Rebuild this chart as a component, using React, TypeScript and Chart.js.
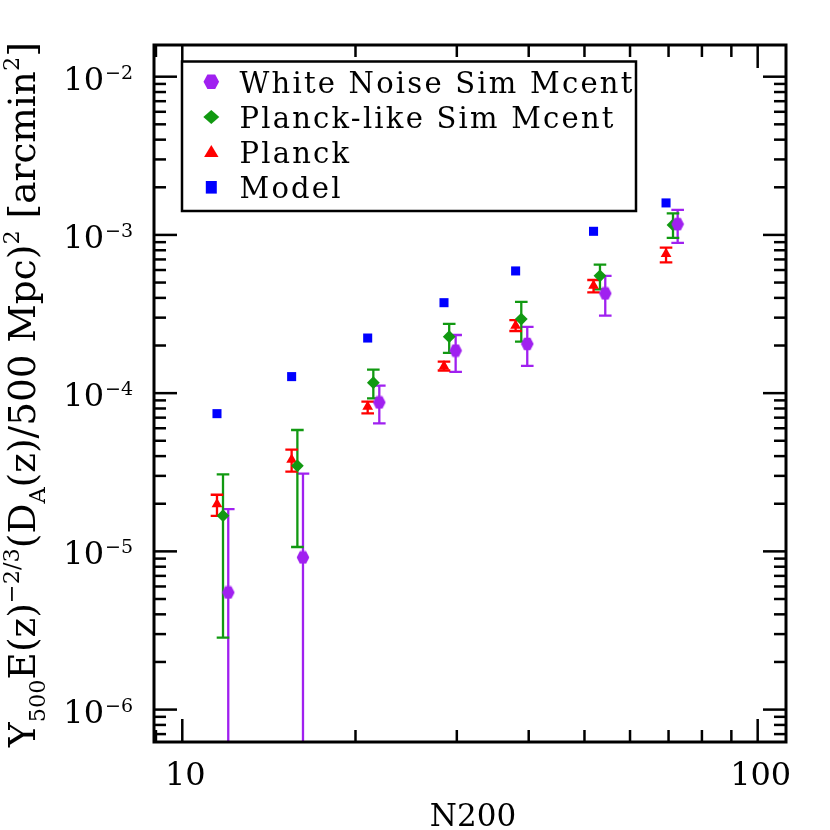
import React, { useEffect, useRef } from 'react';
import { Chart, registerables } from 'chart.js';

Chart.register(...registerables);

// ---------------- data ----------------
const nModel = [11.49, 15.49, 21.0, 28.5, 37.96, 51.85, 69.3];
const yModel = [7.42e-5, 1.272e-4, 2.23e-4, 3.73e-4, 5.92e-4, 1.054e-3, 1.593e-3];

const nPlanck = [11.49, 15.49, 21.0, 28.5, 37.96, 51.85, 69.3];
const yPlanck = [1.99e-5, 3.8e-5, 8.21e-5, 1.478e-4, 2.67e-4, 4.78e-4, 7.58e-4];
const yPlanckHi = [2.28e-5, 4.39e-5, 8.84e-5, 1.58e-4, 2.89e-4, 5.19e-4, 8.31e-4];
const yPlanckLo = [1.675e-5, 3.19e-5, 7.45e-5, 1.39e-4, 2.47e-4, 4.34e-4, 6.71e-4];

const nPlanckSim = [11.77, 15.85, 21.48, 29.1, 38.83, 53.2, 71.26];
const yPlanckSim = [1.68e-5, 3.47e-5, 1.165e-4, 2.276e-4, 2.94e-4, 5.51e-4, 1.157e-3];
const yPlanckSimHi = [3.07e-5, 5.85e-5, 1.408e-4, 2.74e-4, 3.77e-4, 6.49e-4, 1.369e-3];
const yPlanckSimLo = [2.85e-6, 1.066e-5, 9.27e-5, 1.795e-4, 2.116e-4, 4.53e-4, 9.57e-4];

const nWhite = [12.02, 16.21, 22.0, 29.86, 39.77, 54.34, 72.6];
const yWhite = [5.5e-6, 9.16e-6, 8.74e-5, 1.857e-4, 2.047e-4, 4.27e-4, 1.17e-3];
const yWhiteHi = [1.85e-5, 3.1e-5, 1.115e-4, 2.33e-4, 2.62e-4, 5.51e-4, 1.438e-3];
const yWhiteLo = [-7.5e-6, -1.27e-5, 6.44e-5, 1.361e-4, 1.486e-4, 3.09e-4, 8.9e-4];

const seriesLabels = ['White Noise Sim Mcent', 'Planck-like Sim Mcent', 'Planck', 'Model'];

const xMajorTicks = [10, 100];
const xMajorLabels = ['10', '100'];
const xMinorTicks = [9, 20, 30, 40, 50, 60, 70, 80, 90];
const yMajorExps = [-2, -3, -4, -5, -6];
const yMinorMult = [2, 3, 4, 5, 6, 7, 8, 9];

const X_MIN = 8.93;
const X_MAX = 112;
const Y_MIN = 6.24e-7;
const Y_MAX = 0.01586;

const xTitle = 'N200';
const yTitleSegs = [
  { t: 'Y', k: 0 },
  { t: '500', k: -1 },
  { t: 'E(z)', k: 0 },
  { t: '\u22122/3', k: 1 },
  { t: '(D', k: 0 },
  { t: 'A', k: -1 },
  { t: '(z)/500 Mpc)', k: 0 },
  { t: '2', k: 1 },
  { t: ' [arcmin', k: 0 },
  { t: '2', k: 1 },
  { t: ']', k: 0 },
];

// ---------------- styles ----------------
const PURPLE = '#a020f0';
const GREEN = '#119911';
const RED = '#ff0000';
const BLUE = '#0000ff';
const FONT = '"DejaVu Serif", "Liberation Serif", serif';

function hexPath(ctx: CanvasRenderingContext2D, x: number, y: number, hw: number, hh: number) {
  ctx.beginPath();
  ctx.moveTo(x - hw, y);
  ctx.lineTo(x - hw / 2, y - hh);
  ctx.lineTo(x + hw / 2, y - hh);
  ctx.lineTo(x + hw, y);
  ctx.lineTo(x + hw / 2, y + hh);
  ctx.lineTo(x - hw / 2, y + hh);
  ctx.closePath();
}

function makeHex(color: string, hw: number, hh: number) {
  const c = document.createElement('canvas');
  c.width = 14;
  c.height = 14;
  const g = c.getContext('2d')!;
  g.fillStyle = color;
  hexPath(g, 7, 7, hw, hh);
  g.fill();
  return c;
}

function drawMarker(ctx: CanvasRenderingContext2D, kind: string, x: number, y: number, color: string) {
  ctx.fillStyle = color;
  ctx.beginPath();
  if (kind === 'hex') {
    hexPath(ctx, x, y, 7.8, 7.2);
  } else if (kind === 'diamond') {
    ctx.moveTo(x - 8, y);
    ctx.lineTo(x, y - 7);
    ctx.lineTo(x + 8, y);
    ctx.lineTo(x, y + 7);
    ctx.closePath();
  } else if (kind === 'tri') {
    ctx.moveTo(x, y - 7);
    ctx.lineTo(x + 7.2, y + 5);
    ctx.lineTo(x - 7.2, y + 5);
    ctx.closePath();
  } else {
    ctx.rect(x - 5.5, y - 6.3, 11, 12.6);
  }
  ctx.fill();
}

const errorSeries = [
  { n: nWhite, hi: yWhiteHi, lo: yWhiteLo, color: PURPLE },
  { n: nPlanckSim, hi: yPlanckSimHi, lo: yPlanckSimLo, color: GREEN },
  { n: nPlanck, hi: yPlanckHi, lo: yPlanckLo, color: RED },
];

const overlayPlugin = {
  id: 'overlay',
  beforeDatasetsDraw(chart: any) {
    const ctx: CanvasRenderingContext2D = chart.ctx;
    const { left, right, top, bottom } = chart.chartArea;
    const xs = chart.scales.x;
    const ys = chart.scales.y;
    ctx.save();
    ctx.beginPath();
    ctx.rect(left, top, right - left, bottom - top);
    ctx.clip();
    ctx.lineWidth = 2.3;
    const cap = 6.3;
    for (const s of errorSeries) {
      ctx.strokeStyle = s.color;
      for (let i = 0; i < s.n.length; i++) {
        const px = xs.getPixelForValue(s.n[i]);
        const pTop = ys.getPixelForValue(s.hi[i]);
        const hasLo = s.lo[i] > 0;
        const pBot = hasLo ? ys.getPixelForValue(s.lo[i]) : bottom + 20;
        ctx.beginPath();
        ctx.moveTo(px, pTop);
        ctx.lineTo(px, pBot);
        ctx.moveTo(px - cap, pTop);
        ctx.lineTo(px + cap, pTop);
        if (hasLo) {
          ctx.moveTo(px - cap, pBot);
          ctx.lineTo(px + cap, pBot);
        }
        ctx.stroke();
      }
    }
    ctx.restore();
  },
  afterDraw(chart: any) {
    const ctx: CanvasRenderingContext2D = chart.ctx;
    const { left, right, top, bottom } = chart.chartArea;
    const xs = chart.scales.x;
    const ys = chart.scales.y;
    ctx.save();
    ctx.strokeStyle = '#000';
    ctx.fillStyle = '#000';
    ctx.lineWidth = 2.5;
    const line = (x1: number, y1: number, x2: number, y2: number) => {
      ctx.beginPath();
      ctx.moveTo(x1, y1);
      ctx.lineTo(x2, y2);
      ctx.stroke();
    };
    const MAJ = 23;
    const MIN = 12;
    for (const v of xMajorTicks) {
      const p = xs.getPixelForValue(v);
      line(p, bottom, p, bottom - MAJ);
      line(p, top, p, top + MAJ);
    }
    for (const v of xMinorTicks) {
      const p = xs.getPixelForValue(v);
      line(p, bottom, p, bottom - MIN);
      line(p, top, p, top + MIN);
    }
    const exps = [...yMajorExps, Math.min(...yMajorExps) - 1];
    for (const e of exps) {
      if (yMajorExps.includes(e)) {
        const p = ys.getPixelForValue(Math.pow(10, e));
        line(left, p, left + MAJ, p);
        line(right, p, right - MAJ, p);
      }
      for (const m of yMinorMult) {
        const v = m * Math.pow(10, e);
        if (v > Y_MAX || v < Y_MIN) continue;
        const q = ys.getPixelForValue(v);
        line(left, q, left + MIN, q);
        line(right, q, right - MIN, q);
      }
    }
    ctx.lineWidth = 3;
    ctx.strokeRect(left, top, right - left, bottom - top);

    // x tick labels
    ctx.textBaseline = 'alphabetic';
    ctx.font = `32px ${FONT}`;
    ctx.textAlign = 'center';
    xMajorTicks.forEach((v, i) => {
      const p = xs.getPixelForValue(v);
      ctx.fillText(xMajorLabels[i], p + 3, bottom + 43);
    });
    // y tick labels
    ctx.textAlign = 'left';
    for (const e of yMajorExps) {
      const p = ys.getPixelForValue(Math.pow(10, e));
      const sup = '\u2212' + String(Math.abs(e));
      ctx.font = `19px ${FONT}`;
      const sw = ctx.measureText(sup).width;
      ctx.font = `32px ${FONT}`;
      const bw = ctx.measureText('10').width;
      const supX = left - 21 - sw;
      const baseX = supX - 1 - bw;
      ctx.fillText('10', baseX, p + 13);
      ctx.font = `19px ${FONT}`;
      ctx.fillText(sup, supX, p + 2);
    }

    // x title
    ctx.font = `31px ${FONT}`;
    ctx.textAlign = 'center';
    ctx.fillText(xTitle, (left + right) / 2 + 3, 826);

    // y title (rich text, rotated)
    {
      const target = 705;
      const measure = (S: number) => {
        let w = 0;
        for (const s of yTitleSegs) {
          ctx.font = `${s.k === 0 ? S : S * 0.6}px ${FONT}`;
          w += ctx.measureText(s.t).width;
        }
        return w;
      };
      let S = 37;
      const w0 = measure(S);
      S = Math.max(30, Math.min(42, (S * target) / w0));
      ctx.save();
      ctx.translate(35, 747);
      ctx.rotate(-Math.PI / 2);
      ctx.textAlign = 'left';
      let x = 0;
      for (const s of yTitleSegs) {
        const size = s.k === 0 ? S : S * 0.6;
        ctx.font = `${size}px ${FONT}`;
        const dy = s.k === 0 ? 0 : s.k < 0 ? S * 0.28 : -S * 0.42;
        ctx.fillText(s.t, x, dy);
        x += ctx.measureText(s.t).width;
      }
      ctx.restore();
    }

    // legend
    {
      const bx = 182, by = 61.5, bw = 454, bh = 149.5;
      ctx.fillStyle = '#fff';
      ctx.fillRect(bx, by, bw, bh);
      ctx.strokeStyle = '#000';
      ctx.lineWidth = 2.5;
      ctx.strokeRect(bx, by, bw, bh);
      const kinds = ['hex', 'diamond', 'tri', 'square'];
      const colors = [PURPLE, GREEN, RED, BLUE];
      ctx.font = `29px ${FONT}`;
      const ref = seriesLabels[1];
      (ctx as any).letterSpacing = '0px';
      const rw = ctx.measureText(ref).width;
      const ls = (374 - rw) / (ref.length - 1);
      seriesLabels.forEach((lab, i) => {
        const base = 92.7 + 35.2 * i;
        drawMarker(ctx, kinds[i], 211.3, base - 11, colors[i]);
        ctx.fillStyle = '#000';
        ctx.textAlign = 'left';
        (ctx as any).letterSpacing = `${ls}px`;
        ctx.fillText(lab, 239.5, base);
        (ctx as any).letterSpacing = '0px';
      });
    }
    ctx.restore();
  },
};

export default function App() {
  const ref = useRef<HTMLCanvasElement | null>(null);
  useEffect(() => {
    if (!ref.current) return;
    const hexImg = makeHex(PURPLE, 6.3, 6.3);
    const pts = (xs: number[], ys: number[]) => xs.map((x, i) => ({ x, y: ys[i] }));
    const chart = new Chart(ref.current, {
      type: 'scatter',
      data: {
        datasets: [
          {
            label: seriesLabels[0],
            data: pts(nWhite, yWhite),
            pointStyle: hexImg as any,
            pointRadius: 6,
            backgroundColor: PURPLE,
            borderColor: PURPLE,
            pointBorderWidth: 0,
          },
          {
            label: seriesLabels[1],
            data: pts(nPlanckSim, yPlanckSim),
            pointStyle: 'rectRot',
            pointRadius: 6.4,
            backgroundColor: GREEN,
            borderColor: GREEN,
            pointBorderWidth: 0,
          },
          {
            label: seriesLabels[2],
            data: pts(nPlanck, yPlanck),
            pointStyle: 'triangle',
            pointRadius: 6.2,
            backgroundColor: RED,
            borderColor: RED,
            pointBorderWidth: 0,
          },
          {
            label: seriesLabels[3],
            data: pts(nModel, yModel),
            pointStyle: 'rect',
            pointRadius: 6.4,
            backgroundColor: BLUE,
            borderColor: BLUE,
            pointBorderWidth: 0,
          },
        ],
      } as any,
      options: {
        responsive: false,
        animation: false,
        devicePixelRatio: 1,
        events: [],
        layout: { padding: { left: 154, top: 45, right: 44, bottom: 88 } },
        scales: {
          x: { type: 'logarithmic', min: X_MIN, max: X_MAX, display: false },
          y: { type: 'logarithmic', min: Y_MIN, max: Y_MAX, display: false },
        },
        plugins: {
          legend: { display: false },
          tooltip: { enabled: false },
          title: { display: false },
        },
      } as any,
      plugins: [overlayPlugin],
    });
    return () => chart.destroy();
  }, []);
  return (
    <div style={{ position: 'absolute', left: 0, top: 0, width: 830, height: 830, background: '#fff' }}>
      <canvas ref={ref} width={830} height={830} style={{ width: 830, height: 830, display: 'block' }} />
    </div>
  );
}
